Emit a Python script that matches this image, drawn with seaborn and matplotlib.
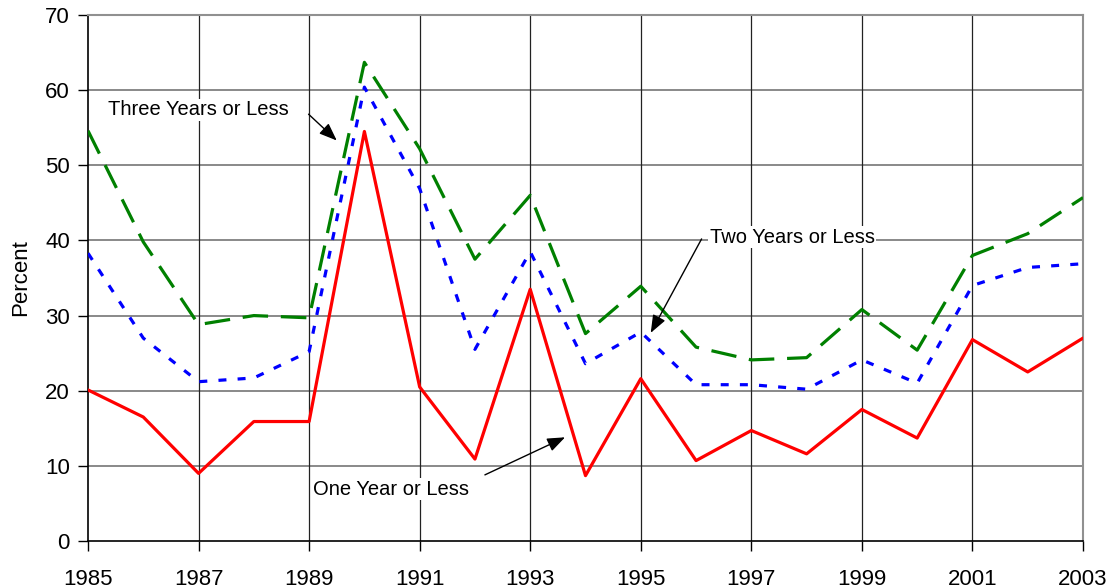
import matplotlib
matplotlib.use("Agg")
import matplotlib.pyplot as plt
import seaborn as sns
import pandas as pd

years = list(range(1985, 2004))
one_year = [20.1, 16.5, 9.0, 15.9, 15.9, 54.5, 20.5, 10.9, 33.5, 8.7,
            21.6, 10.7, 14.7, 11.6, 17.5, 13.7, 26.8, 22.5, 27.0]
two_years = [38.3, 27.0, 21.2, 21.7, 25.2, 60.4, 46.9, 25.5, 38.5, 23.6,
             27.8, 20.8, 20.8, 20.2, 24.1, 21.0, 34.0, 36.4, 36.9]
three_years = [54.6, 39.8, 28.8, 30.0, 29.7, 63.7, 52.2, 37.5, 46.0, 27.6,
               33.9, 25.8, 24.1, 24.4, 30.8, 25.4, 38.0, 40.9, 45.7]

labels = ["One Year or Less", "Two Years or Less", "Three Years or Less"]
xticks = list(range(1985, 2004, 2))
yticks = list(range(0, 71, 10))

df = pd.DataFrame({"Year": years, labels[0]: one_year,
                   labels[1]: two_years, labels[2]: three_years})

sns.set_theme(style="white")
plt.rcParams['font.family'] = ['Liberation Sans', 'DejaVu Sans']
plt.rcParams['text.color'] = 'black'
plt.rcParams['axes.labelcolor'] = 'black'
plt.rcParams['xtick.color'] = 'black'
plt.rcParams['ytick.color'] = 'black'

fig = plt.figure(figsize=(11.16, 5.88), dpi=100)
ax = fig.add_axes([88/1116, 1 - 541/588, (1083-88)/1116, (541-15)/588])

ax.set_xlim(1985, 2003)
ax.set_ylim(0, 70)
ax.set_xticks(xticks)
ax.set_yticks(yticks)

for y in yticks[1:]:
    ax.axhline(y, color="#808080", lw=1.3, zorder=1)
for x in xticks[1:-1]:
    ax.axvline(x, color="#222222", lw=0.9, zorder=1)

lw = 2.3
sns.lineplot(data=df, x="Year", y=labels[2], ax=ax, color="#008000", lw=lw,
             zorder=3)
ax.lines[-1].set_dashes((8, 4))
sns.lineplot(data=df, x="Year", y=labels[1], ax=ax, color="#0000FF", lw=lw,
             zorder=3)
ax.lines[-1].set_dashes((2.5, 3.5))
sns.lineplot(data=df, x="Year", y=labels[0], ax=ax, color="#FF0000", lw=lw,
             zorder=4)

ax.set_xlabel("")
ax.set_ylabel("Percent", fontsize=16, labelpad=10, color="black")

for side in ["top", "right"]:
    ax.spines[side].set_color("#909090")
    ax.spines[side].set_linewidth(1.5)
for side in ["left", "bottom"]:
    ax.spines[side].set_color("black")
    ax.spines[side].set_linewidth(1.2)

ax.tick_params(axis="x", direction="out", length=7, width=1, pad=13,
               labelsize=16, colors="black", bottom=True)
ax.tick_params(axis="y", direction="out", length=7, width=1, pad=6,
               labelsize=16, colors="black", left=True)

box = dict(facecolor="white", edgecolor="none", pad=1)
arrow = dict(arrowstyle="-|>,head_length=0.9,head_width=0.35", color="black",
             lw=1, shrinkA=0, shrinkB=0)

ax.text(1985.36, 57.4, "Three Years or Less", fontsize=14.5, ha="left",
        va="center", bbox=box, zorder=5, color="black")
ax.annotate("", xy=(1989.5, 53.3), xytext=(1988.99, 56.8), arrowprops=arrow,
            zorder=5)

ax.text(1996.25, 40.45, "Two Years or Less", fontsize=14.5, ha="left",
        va="center", bbox=box, zorder=5, color="black")
ax.annotate("", xy=(1995.18, 27.7), xytext=(1996.1, 40.2), arrowprops=arrow,
            zorder=5)

ax.text(1989.07, 6.9, "One Year or Less", fontsize=14.5, ha="left",
        va="center", bbox=box, zorder=5, color="black")
ax.annotate("", xy=(1993.63, 13.8), xytext=(1992.18, 8.8), arrowprops=arrow,
            zorder=5)

fig.savefig("out.png", dpi=100)
